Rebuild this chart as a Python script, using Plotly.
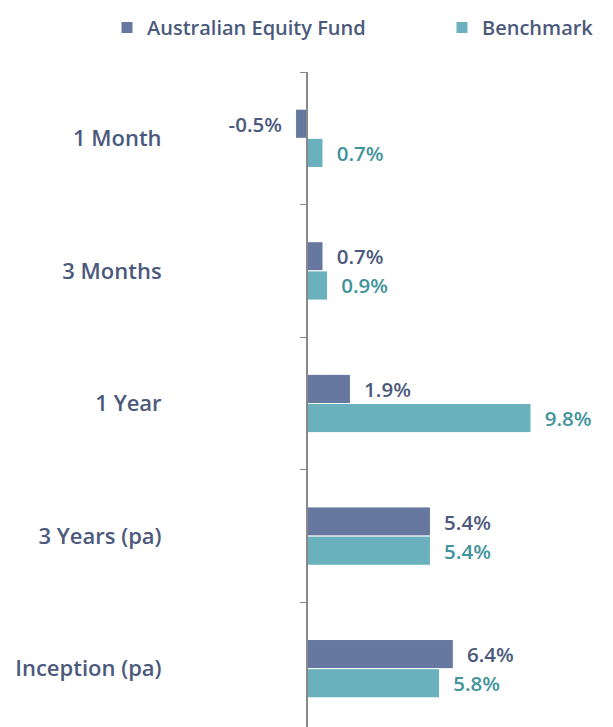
import plotly.graph_objects as go

categories = ["1 Month", "3 Months", "1 Year", "3 Years (pa)", "Inception (pa)"]
fund_values = [-0.5, 0.7, 1.9, 5.4, 6.4]
bench_values = [0.7, 0.9, 9.8, 5.4, 5.8]
series_names = ["Australian Equity Fund", "Benchmark"]

FUND_COLOR = "#66789F"
BENCH_COLOR = "#6BB1BD"
FUND_TEXT = "#4B5A7C"
BENCH_TEXT = "#42939C"
LABEL_COLOR = "#4B5A7C"
FONT = "Open Sans"
WEIGHT = 600

NB = "\u00a0"


def labels(vals):
    out = []
    for v in vals:
        s = f"{v:.1f}%"
        out.append(s + NB * 2 if v < 0 else NB * 2 + s)
    return out


W, H = 613, 727
OFF = 8  # page body offset
ml, mr, mt, mb = 5, 5, 72 - OFF, 0
zero_px = 307 - OFF
px_per = 22.86
plot_w = W - ml - mr
xmin = -(zero_px - ml) / px_per
xmax = xmin + plot_w / px_per

fig = go.Figure()
fig.add_trace(go.Bar(
    y=categories, x=fund_values, name=series_names[0], orientation="h",
    marker=dict(color=FUND_COLOR, line=dict(color="white", width=1)),
    text=labels(fund_values), textposition="outside", cliponaxis=False,
    textfont=dict(color=FUND_TEXT, size=20.5, family=FONT, weight=WEIGHT),
    legend="legend", showlegend=True,
))
fig.add_trace(go.Bar(
    y=categories, x=bench_values, name=series_names[1], orientation="h",
    marker=dict(color=BENCH_COLOR, line=dict(color="white", width=1)),
    text=labels(bench_values), textposition="outside", cliponaxis=False,
    textfont=dict(color=BENCH_TEXT, size=20.5, family=FONT, weight=WEIGHT),
    legend="legend2", showlegend=True,
))

legend_common = dict(
    orientation="h", xref="container", yref="container",
    yanchor="top", xanchor="left",
    font=dict(size=20, color=LABEL_COLOR, family=FONT, weight=WEIGHT),
)

fig.update_layout(
    width=W, height=H, showlegend=True,
    margin=dict(l=ml, r=mr, t=mt, b=mb, autoexpand=False),
    barmode="group", bargap=0.56, bargroupgap=0,
    plot_bgcolor="white", paper_bgcolor="white",
    font=dict(family=FONT, color=LABEL_COLOR),
    xaxis=dict(range=[xmin, xmax], visible=False, domain=[0, 1]),
    yaxis=dict(
        autorange="reversed", anchor="free", position=(zero_px - ml) / plot_w,
        showline=True, linecolor="#888888", linewidth=2,
        ticks="outside", tickson="boundaries", ticklen=6, tickcolor="#888888",
        showgrid=False, zeroline=False,
        ticklabelstandoff=140, automargin=False,
        tickfont=dict(size=22, color=LABEL_COLOR, family=FONT, weight=WEIGHT),
    ),
    legend=dict(x=99 / W, y=1, **legend_common),
    legend2=dict(x=434 / W, y=1, **legend_common),
)

fig.write_html("out.html")
